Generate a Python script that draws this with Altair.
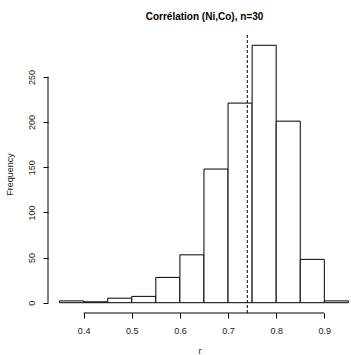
import altair as alt
import pandas as pd

bin_start = [0.35, 0.40, 0.45, 0.50, 0.55, 0.60, 0.65, 0.70, 0.75, 0.80, 0.85, 0.90]
counts = [2, 1, 5, 7, 28, 53, 148, 221, 285, 201, 48, 2]
bin_width = 0.05
vline_x = 0.74
x_ticks = [0.4, 0.5, 0.6, 0.7, 0.8, 0.9]
y_ticks = [0, 50, 100, 150, 200, 250]

df = pd.DataFrame({
    "x0": bin_start,
    "x1": [b + bin_width for b in bin_start],
    "count": counts,
})

W, H = 303, 278
FONT = "Liberation Sans"

xs = alt.Scale(domain=[0.326, 0.9554], nice=False, zero=False)
ys = alt.Scale(domain=[-11.4, 296.4], nice=False, zero=False)

bars = alt.Chart(df).mark_rect(fill="white", stroke="black", strokeWidth=1).encode(
    x=alt.X("x0:Q", scale=xs, axis=alt.Axis(
        values=x_ticks, format=".1f", domain=False, grid=False,
        tickSize=5, tickColor="black", tickWidth=1,
        labelFont=FONT, labelFontSize=9, labelColor="#222222", labelPadding=8,
        title="r", titleFont=FONT, titleFontSize=9, titleFontWeight="normal",
        titleColor="#222222", titlePadding=11)),
    x2="x1:Q",
    y=alt.Y("count:Q", scale=ys, axis=alt.Axis(
        values=y_ticks, domain=False, grid=False,
        tickSize=5, tickColor="black", tickWidth=1,
        labelFont=FONT, labelFontSize=9, labelColor="#222222", labelAngle=-90,
        labelAlign="center", labelBaseline="bottom", labelPadding=7,
        title="Frequency", titleFont=FONT, titleFontSize=9, titleFontWeight="normal",
        titleColor="#222222", titlePadding=13)),
    y2=alt.datum(0),
)

xaxis_line = alt.Chart(pd.DataFrame({"a": [x_ticks[0]], "b": [x_ticks[-1]]})).mark_rule(
    color="black", strokeWidth=1).encode(
    x=alt.X("a:Q", scale=xs), x2="b:Q", y=alt.value(H))

yaxis_line = alt.Chart(pd.DataFrame({"a": [y_ticks[0]], "b": [y_ticks[-1]]})).mark_rule(
    color="black", strokeWidth=1).encode(
    y=alt.Y("a:Q", scale=ys), y2="b:Q", x=alt.value(0))

vline = alt.Chart(pd.DataFrame({"v": [vline_x]})).mark_rule(
    color="black", strokeWidth=1, strokeDash=[3, 2]).encode(
    x=alt.X("v:Q", scale=xs), y=alt.value(0), y2=alt.value(H))

chart = alt.layer(bars, xaxis_line, yaxis_line, vline).properties(
    width=W, height=H,
    title=alt.TitleParams("Corrélation (Ni,Co), n=30", font=FONT, fontSize=10,
                          fontWeight="bold", color="black", anchor="middle",
                          dx=5, offset=13),
    padding={"left": 48, "top": 35, "right": 0, "bottom": 42},
    autosize=alt.AutoSizeParams(type="none"),
    background="white",
).configure_view(stroke=None)

chart.save("out.html", embed_options={"renderer": "svg", "actions": False})
